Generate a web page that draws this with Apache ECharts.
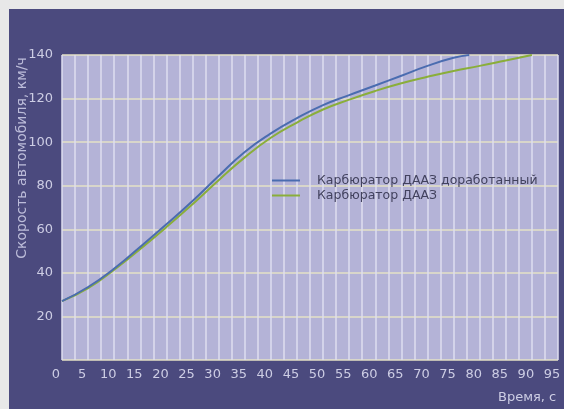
<!DOCTYPE html>
<html>
<head>
	<meta charset="utf-8"/>
	<title>Скорость автомобиля</title>
	<style>
		* {
			margin: 0;
			padding: 0;
		}
		html, body {
			width: 100%;
			height: 100%;
			background: #e8e8e8;
		}
		#main {
			width: 564px;
			height: 409px;
		}
	</style>
</head>
<body>

	<div id="main"></div>

	<script src="https://cdn.jsdelivr.net/npm/echarts@6/dist/echarts.min.js"></script>
	<script>
		var myChart = echarts.init(document.getElementById('main'));

		// время, с
		var timeUpgraded = [0, 5, 10, 15, 20, 25, 30, 35, 40, 45, 50, 55, 60, 65, 70, 75, 78];
		var speedUpgraded = [27, 33.5, 42, 52, 62.3, 73, 84.5, 95.5, 104, 111, 117, 121.6, 126, 130.5, 135, 138.7, 140];

		var timeStock = [0, 5, 10, 15, 20, 25, 30, 35, 40, 45, 50, 55, 60, 65, 70, 75, 80, 85, 90];
		var speedStock = [27, 33, 41.5, 51, 61, 71.5, 82.5, 93, 102, 109, 115, 119.5, 123.5, 127, 130, 132.7, 135, 137.5, 140];

		var seriesNames = ['Карбюратор ДААЗ доработанный', 'Карбюратор ДААЗ'];

		function pairs(xs, ys) {
			return xs.map(function (x, i) {
				return [x, ys[i]];
			});
		}

		var labelColor = '#cdcde4';
		var font = 'DejaVu Sans';

		var option = {
			backgroundColor: '#e8e8e8',
			animation: false,
			graphic: [{
				type: 'rect',
				z: -10,
				shape: { x: 9, y: 9, width: 560, height: 405 },
				style: { fill: '#4b4a7e' }
			}, {
				type: 'text',
				x: 22,
				y: 158,
				rotation: Math.PI / 2,
				style: {
					text: 'Скорость автомобиля, км/ч',
					align: 'center',
					verticalAlign: 'middle',
					fill: '#bcbcd9',
					font: '14px "DejaVu Sans"'
				}
			}, {
				type: 'text',
				x: 498,
				y: 398,
				style: {
					text: 'Время, с',
					verticalAlign: 'middle',
					fill: '#cdcde4',
					font: '13px "DejaVu Sans"'
				}
			}],
			grid: {
				left: 62,
				top: 55,
				right: 6,
				bottom: 49,
				show: true,
				backgroundColor: '#b4b3d7',
				borderWidth: 0
			},
			legend: {
				orient: 'vertical',
				left: 267,
				top: 169,
				itemGap: 2,
				itemWidth: 28,
				itemHeight: 2,
				icon: 'rect',
				data: seriesNames,
				textStyle: {
					color: '#42425e',
					fontFamily: font,
					fontSize: 12.5,
					padding: [0, 0, 0, 12]
				}
			},
			xAxis: {
				type: 'value',
				min: 0,
				max: 95,
				interval: 5,
				axisLine: { show: false },
				axisTick: { show: false },
				minorTick: { show: false, splitNumber: 2 },
				axisLabel: {
					color: labelColor,
					fontFamily: font,
					fontSize: 13,
					margin: 8,
					padding: [0, 12, 0, 0],
					showMaxLabel: true
				},
				splitLine: {
					show: true,
					lineStyle: { color: '#dedef0', width: 1.5 }
				},
				minorSplitLine: {
					show: true,
					lineStyle: { color: '#dedef0', width: 1.5 }
				}
			},
			yAxis: {
				type: 'value',
				min: 0,
				max: 140,
				interval: 20,
				axisLine: { show: false },
				axisTick: { show: false },
				axisLabel: {
					color: labelColor,
					fontFamily: font,
					fontSize: 13,
					margin: 9,
					showMinLabel: false
				},
				splitLine: {
					show: true,
					lineStyle: { color: '#e4e2c6', width: 1.5 }
				}
			},
			series: [{
				name: seriesNames[0],
				type: 'line',
				smooth: true,
				showSymbol: false,
				z: 3,
				lineStyle: { color: '#4a6cb0', width: 2 },
				itemStyle: { color: '#4a6cb0' },
				data: pairs(timeUpgraded, speedUpgraded)
			}, {
				name: seriesNames[1],
				type: 'line',
				smooth: true,
				showSymbol: false,
				z: 2,
				lineStyle: { color: '#8aae3a', width: 2 },
				itemStyle: { color: '#8aae3a' },
				data: pairs(timeStock, speedStock)
			}]
		};

		myChart.setOption(option);
	</script>
</body>
</html>
